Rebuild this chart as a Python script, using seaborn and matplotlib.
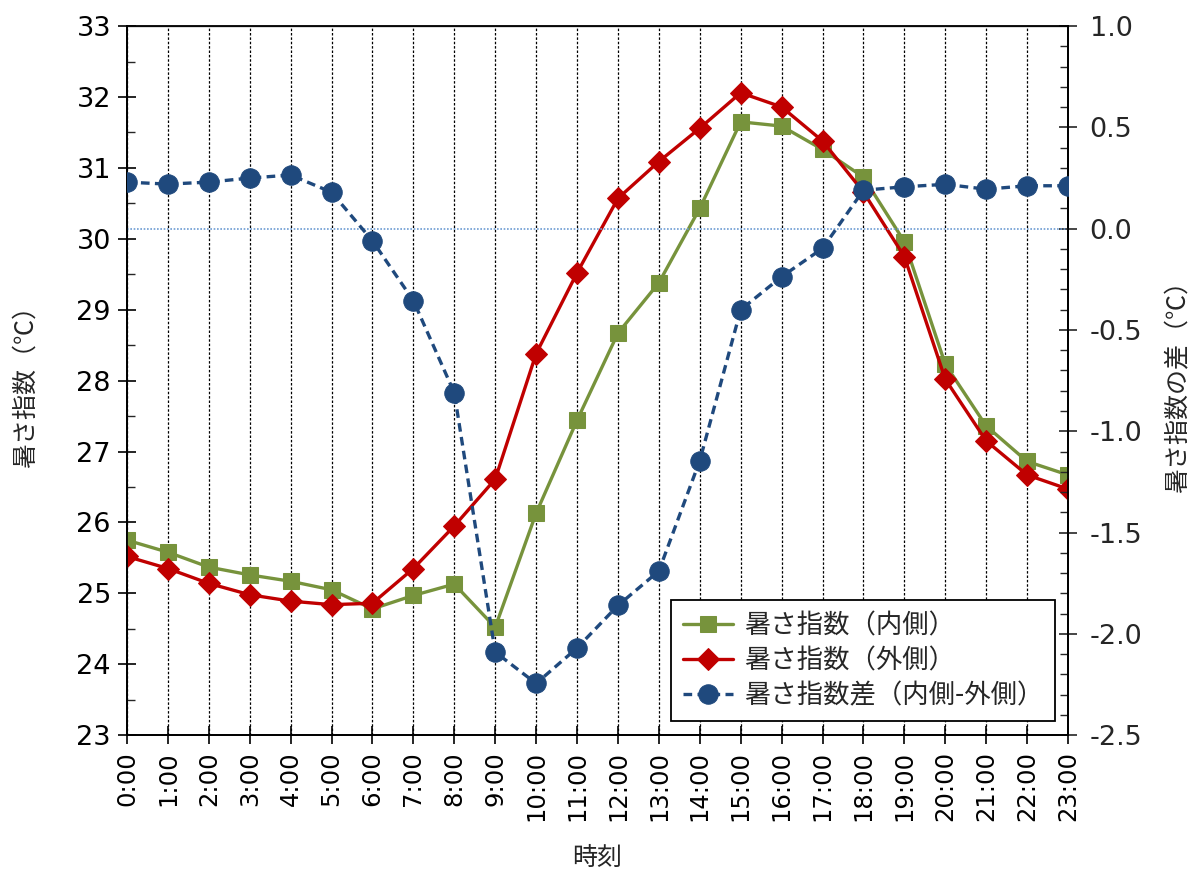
import matplotlib
matplotlib.use("Agg")
import matplotlib.pyplot as plt
from matplotlib.ticker import MultipleLocator, FormatStrFormatter
import seaborn as sns

# 時刻ごとのデータ
hours = list(range(24))
hour_labels = [f"{h}:00" for h in hours]
wbgt_inner = [25.75, 25.58, 25.37, 25.26, 25.17, 25.05, 24.78, 24.97, 25.13, 24.52,
              26.13, 27.44, 28.67, 29.38, 30.43, 31.65, 31.59, 31.26, 30.87, 29.96,
              28.23, 27.36, 26.86, 26.67]
wbgt_outer = [25.52, 25.35, 25.14, 24.98, 24.89, 24.84, 24.86, 25.35, 25.95, 26.61,
              28.38, 29.52, 30.57, 31.09, 31.56, 32.06, 31.86, 31.38, 30.66, 29.75,
              28.02, 27.15, 26.67, 26.47]
wbgt_diff = [0.23, 0.22, 0.23, 0.25, 0.265, 0.18, -0.06, -0.355, -0.81, -2.09,
             -2.245, -2.07, -1.86, -1.69, -1.145, -0.40, -0.237, -0.097, 0.19, 0.207,
             0.219, 0.195, 0.212, 0.212]

sns.set_style("ticks")
plt.rcParams["font.family"] = ["DejaVu Sans", "Noto Sans CJK JP"]
jp = ["Noto Sans CJK JP", "DejaVu Sans"]

green = "#77933C"
red = "#C00000"
blue = "#1F497D"

fig = plt.figure(figsize=(11.92, 8.71), dpi=100)
ax = fig.add_axes([0.1065, 0.156, 0.7895, 0.814])
ax2 = ax.twinx()

sns.lineplot(x=hours, y=wbgt_inner, ax=ax, color=green, marker="s", markersize=12,
             markeredgecolor=green, linewidth=2.4, label="暑さ指数（内側）", zorder=3)
sns.lineplot(x=hours, y=wbgt_outer, ax=ax, color=red, marker="D", markersize=11,
             markeredgecolor=red, linewidth=2.4, label="暑さ指数（外側）", zorder=4)
sns.lineplot(x=hours, y=wbgt_diff, ax=ax2, color=blue, marker="o", markersize=14,
             markeredgecolor=blue, linewidth=2.4, linestyle=(0, (2.6, 1.6)),
             label="暑さ指数差（内側-外側）", zorder=5)
ax2.axhline(0, color="#6C9BD2", linewidth=1.2, linestyle=(0, (1, 1)), zorder=1)

# 軸の設定
ax.set_xlim(0, 23)
ax.set_ylim(23, 33)
ax2.set_ylim(-2.5, 1.0)
ax.set_xticks(hours)
ax.set_xticklabels(hour_labels, rotation=90)
ax.yaxis.set_major_locator(MultipleLocator(1))
ax.yaxis.set_minor_locator(MultipleLocator(0.5))
ax2.yaxis.set_major_locator(MultipleLocator(0.5))
ax2.yaxis.set_minor_locator(MultipleLocator(0.1))
ax2.yaxis.set_major_formatter(FormatStrFormatter("%.1f"))

ax.grid(axis="x", color="black", linewidth=0.9, linestyle=(0, (2, 1.5)))
ax.grid(axis="y", visible=False)

ax.tick_params(axis="both", which="major", direction="inout", length=13, width=1.2,
               colors="black", pad=5)
ax.tick_params(axis="y", which="major", labelsize=19.5)
ax.tick_params(axis="x", which="major", labelsize=17.5)
ax.tick_params(axis="y", which="minor", direction="in", length=6, width=1.0)
ax2.tick_params(axis="y", which="major", direction="inout", length=13, width=1.2,
                labelsize=19.5, pad=9)
ax2.tick_params(axis="y", which="minor", direction="in", length=6, width=1.0)

for a in (ax, ax2):
    for s in a.spines.values():
        s.set_visible(True)
        s.set_color("black")
        s.set_linewidth(1.3)
ax.spines["top"].set_color("#555555")
ax.spines["top"].set_linewidth(1.0)

ax.set_xlabel("時刻", fontsize=18, family=jp, labelpad=17)
ax.set_ylabel("暑さ指数（℃）", fontsize=18, family=jp, labelpad=27)
ax2.set_ylabel("暑さ指数の差（℃）", fontsize=18, family=jp, labelpad=17)

# 凡例
h1, l1 = ax.get_legend_handles_labels()
h2, l2 = ax2.get_legend_handles_labels()
if ax.get_legend():
    ax.get_legend().remove()
leg = ax2.legend(h1 + h2, l1 + l2, loc="lower right", bbox_to_anchor=(0.986, 0.02),
                 prop={"family": jp, "size": 19}, frameon=True, fancybox=False,
                 framealpha=1, edgecolor="black", handlelength=1.9, borderpad=0.45,
                 labelspacing=0.3, handletextpad=0.4, borderaxespad=0)
leg.get_frame().set_linewidth(1.3)

fig.savefig("out.png", dpi=100)
